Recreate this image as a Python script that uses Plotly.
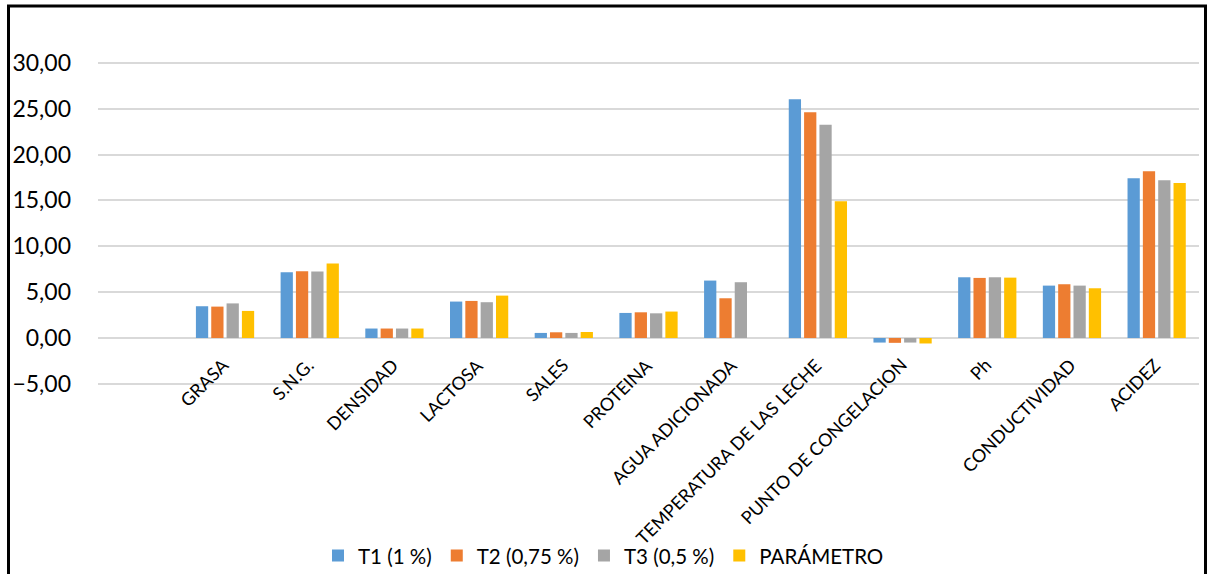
import plotly.graph_objects as go

# Parámetros de la leche por tratamiento
categorias = [
    "GRASA", "S.N.G.", "DENSIDAD", "LACTOSA", "SALES", "PROTEINA",
    "AGUA ADICIONADA", "TEMPERATURA DE LAS LECHE", "PUNTO DE CONGELACION",
    "Ph", "CONDUCTIVIDAD", "ACIDEZ",
]
t1 = [3.46, 7.17, 1.03, 3.97, 0.55, 2.73, 6.26, 26.04, -0.50, 6.62, 5.71, 17.42]
t2 = [3.42, 7.28, 1.03, 4.04, 0.62, 2.80, 4.33, 24.62, -0.53, 6.55, 5.86, 18.18]
t3 = [3.77, 7.24, 1.03, 3.90, 0.55, 2.69, 6.08, 23.24, -0.50, 6.62, 5.71, 17.20]
parametro = [2.95, 8.12, 1.03, 4.62, 0.65, 2.88, 0.00, 14.91, -0.60, 6.58, 5.42, 16.91]

series = [
    ("T1 (1 %)", t1, "#5B9BD5"),
    ("T2 (0,75 %)", t2, "#ED7D31"),
    ("T3 (0,5 %)", t3, "#A5A5A5"),
    ("PARÁMETRO", parametro, "#FFC000"),
]

y_ticks = [-5, 0, 5, 10, 15, 20, 25, 30]

FONT = "Lato, Carlito, 'Open Sans', sans-serif"
W, H = 1208, 574
PLOT_L, PLOT_R, PLOT_T, PLOT_B = 98, 1199, 17, 393.2
Y_MIN, Y_MAX = -6, 35

fig = go.Figure()
for nombre, valores, color in series:
    fig.add_trace(go.Bar(
        name=nombre, x=categorias, y=valores,
        marker=dict(color=color, line=dict(width=0)),
    ))

# Etiquetas de categoría giradas, colgando bajo el eje en cero
for cat in categorias:
    fig.add_annotation(
        x=cat, y=0, xref="x", yref="y", text=cat, showarrow=False,
        textangle=-45, xanchor="right", yanchor="top",
        xshift=11, yshift=-13,
        font=dict(family=FONT, size=18, color="#000000"),
    )

# Marco exterior del gráfico
pw = PLOT_R - PLOT_L
ph = PLOT_B - PLOT_T
def px_x(v):
    return (v - PLOT_L) / pw
def px_y(v):
    return (PLOT_B - v) / ph

fig.add_shape(
    type="rect", xref="paper", yref="paper",
    x0=px_x(8.5), x1=px_x(1205.5), y0=px_y(620), y1=px_y(6),
    line=dict(color="#000000", width=3), fillcolor="rgba(0,0,0,0)",
    layer="above",
)

fig.update_layout(
    width=W, height=H,
    margin=dict(l=PLOT_L, r=W - PLOT_R, t=PLOT_T, b=H - PLOT_B, pad=0,
                autoexpand=False),
    paper_bgcolor="#ffffff", plot_bgcolor="#ffffff",
    barmode="group", bargap=0.276, bargroupgap=0.2,
    separators=",.",
    font=dict(family=FONT, color="#000000"),
    showlegend=True,
    legend=dict(
        orientation="h", x=px_x(318), xanchor="left",
        y=px_y(556), yanchor="middle",
        font=dict(family=FONT, size=20.5, color="#000000"),
        itemwidth=30, traceorder="normal",
        bgcolor="rgba(0,0,0,0)",
    ),
    xaxis=dict(
        type="category", categoryorder="array", categoryarray=categorias,
        range=[-1.5, len(categorias) - 0.5],
        showticklabels=False, showgrid=False, showline=False, zeroline=False,
        ticks="",
    ),
    yaxis=dict(
        range=[Y_MIN, Y_MAX], tickvals=y_ticks, tickformat=".2f",
        showgrid=True, gridcolor="#D9D9D9", gridwidth=2,
        zeroline=True, zerolinecolor="#D9D9D9", zerolinewidth=2,
        showline=False, ticks="", ticklabelstandoff=26,
        tickfont=dict(family=FONT, size=23, color="#000000"),
    ),
)

fig.write_html("out.html")
